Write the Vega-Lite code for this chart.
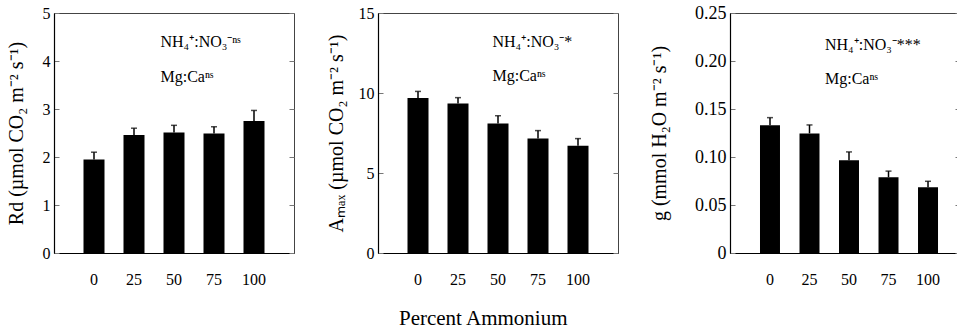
{
  "$schema": "https://vega.github.io/schema/vega-lite/v6.json",
  "padding": {"left": 5, "top": 3, "right": 0, "bottom": 0},
  "background": "white",
  "datasets": {
    "rd": [
      {"pct": 0, "v": 1.95, "e": 2.10},
      {"pct": 25, "v": 2.46, "e": 2.60},
      {"pct": 50, "v": 2.51, "e": 2.66},
      {"pct": 75, "v": 2.49, "e": 2.63},
      {"pct": 100, "v": 2.75, "e": 2.97}
    ],
    "amax": [
      {"pct": 0, "v": 9.69, "e": 10.1},
      {"pct": 25, "v": 9.35, "e": 9.71},
      {"pct": 50, "v": 8.1, "e": 8.58},
      {"pct": 75, "v": 7.15, "e": 7.65},
      {"pct": 100, "v": 6.71, "e": 7.15}
    ],
    "g": [
      {"pct": 0, "v": 0.133, "e": 0.141},
      {"pct": 25, "v": 0.1246, "e": 0.1334},
      {"pct": 50, "v": 0.0965, "e": 0.1053},
      {"pct": 75, "v": 0.0789, "e": 0.0853},
      {"pct": 100, "v": 0.0684, "e": 0.0747}
    ],
    "ann1": [
      {"pct": 50, "y": 4.29, "label": "NH₄⁺:NO₃⁻ⁿˢ"},
      {"pct": 50, "y": 3.56, "label": "Mg:Caⁿˢ"}
    ],
    "ann2": [
      {"pct": 50, "y": 12.9, "label": "NH₄⁺:NO₃⁻*"},
      {"pct": 50, "y": 10.75, "label": "Mg:Caⁿˢ"}
    ],
    "ann3": [
      {"pct": 50, "y": 0.2116, "label": "NH₄⁺:NO₃⁻***"},
      {"pct": 50, "y": 0.1758, "label": "Mg:Caⁿˢ"}
    ]
  },
  "title": {
    "text": "Percent Ammonium",
    "orient": "bottom",
    "anchor": "middle",
    "fontSize": 21,
    "fontWeight": "normal",
    "font": "Liberation Serif",
    "color": "black",
    "offset": 20
  },
  "spacing": 30,
  "hconcat": [
    {
      "width": 240,
      "height": 240,
      "data": {"name": "rd"},
      "layer": [
        {
          "mark": {"type": "bar", "color": "black"},
          "encoding": {
            "x": {"field": "pct", "type": "ordinal", "title": null, "scale": {"paddingInner": 0.475, "paddingOuter": 0.7375}},
            "y": {"field": "v", "type": "quantitative", "title": "Rd (µmol CO₂ m⁻² s⁻¹)", "scale": {"domain": [0, 5], "nice": false},
              "axis": {"values": [0, 1, 2, 3, 4, 5], "titlePadding": 16}}
          }
        },
        {
          "mark": {"type": "rule", "color": "black", "strokeWidth": 1.5},
          "encoding": {
            "x": {"field": "pct", "type": "ordinal", "title": null},
            "y": {"field": "v", "type": "quantitative", "axis": {"orient": "right", "labels": false, "domain": false, "title": null, "values": [0, 1, 2, 3, 4, 5]}},
            "y2": {"field": "e"}
          }
        },
        {
          "mark": {"type": "tick", "color": "black", "thickness": 1.5, "size": 6, "orient": "horizontal"},
          "encoding": {
            "x": {"field": "pct", "type": "ordinal", "title": null},
            "y": {"field": "e", "type": "quantitative", "axis": null}
          }
        },
        {
          "data": {"name": "ann1"},
          "mark": {"type": "text", "align": "left", "baseline": "alphabetic", "fontSize": 16, "dx": -3, "color": "black"},
          "encoding": {
            "x": {"field": "pct", "type": "ordinal", "title": null, "bandPosition": 0},
            "y": {"field": "y", "type": "quantitative", "axis": null},
            "text": {"field": "label"}
          }
        }
      ],
      "resolve": {"axis": {"y": "independent"}}
    },
    {
      "width": 240,
      "height": 240,
      "data": {"name": "amax"},
      "layer": [
        {
          "mark": {"type": "bar", "color": "black"},
          "encoding": {
            "x": {"field": "pct", "type": "ordinal", "title": null, "scale": {"paddingInner": 0.475, "paddingOuter": 0.7375}},
            "y": {"field": "v", "type": "quantitative", "title": "Aₘₐₓ (µmol CO₂ m⁻² s⁻¹)", "scale": {"domain": [0, 15], "nice": false},
              "axis": {"values": [0, 5, 10, 15], "titlePadding": 12}}
          }
        },
        {
          "mark": {"type": "rule", "color": "black", "strokeWidth": 1.5},
          "encoding": {
            "x": {"field": "pct", "type": "ordinal", "title": null},
            "y": {"field": "v", "type": "quantitative", "axis": {"orient": "right", "labels": false, "domain": false, "title": null, "values": [0, 5, 10, 15]}},
            "y2": {"field": "e"}
          }
        },
        {
          "mark": {"type": "tick", "color": "black", "thickness": 1.5, "size": 6, "orient": "horizontal"},
          "encoding": {
            "x": {"field": "pct", "type": "ordinal", "title": null},
            "y": {"field": "e", "type": "quantitative", "axis": null}
          }
        },
        {
          "data": {"name": "ann2"},
          "mark": {"type": "text", "align": "left", "baseline": "alphabetic", "fontSize": 16, "dx": 5, "color": "black"},
          "encoding": {
            "x": {"field": "pct", "type": "ordinal", "title": null, "bandPosition": 0},
            "y": {"field": "y", "type": "quantitative", "axis": null},
            "text": {"field": "label"}
          }
        }
      ],
      "resolve": {"axis": {"y": "independent"}}
    },
    {
      "width": 230,
      "height": 240,
      "data": {"name": "g"},
      "layer": [
        {
          "mark": {"type": "bar", "color": "black"},
          "encoding": {
            "x": {"field": "pct", "type": "ordinal", "title": null, "scale": {"paddingInner": 0.494, "paddingOuter": 0.658, "align": 0.577}},
            "y": {"field": "v", "type": "quantitative", "title": "g (mmol H₂O m⁻² s⁻¹)", "scale": {"domain": [0, 0.25], "nice": false},
              "axis": {"values": [0, 0.05, 0.1, 0.15, 0.2, 0.25], "labelExpr": "datum.value == 0 ? '0' : format(datum.value, '.2f')", "labelFontSize": 18, "titlePadding": 25}}
          }
        },
        {
          "mark": {"type": "rule", "color": "black", "strokeWidth": 1.5},
          "encoding": {
            "x": {"field": "pct", "type": "ordinal", "title": null},
            "y": {"field": "v", "type": "quantitative", "axis": {"orient": "right", "labels": false, "domain": false, "title": null, "values": [0, 0.05, 0.1, 0.15, 0.2, 0.25]}},
            "y2": {"field": "e"}
          }
        },
        {
          "mark": {"type": "tick", "color": "black", "thickness": 1.5, "size": 6, "orient": "horizontal"},
          "encoding": {
            "x": {"field": "pct", "type": "ordinal", "title": null},
            "y": {"field": "e", "type": "quantitative", "axis": null}
          }
        },
        {
          "data": {"name": "ann3"},
          "mark": {"type": "text", "align": "left", "baseline": "alphabetic", "fontSize": 16, "dx": -14, "color": "black"},
          "encoding": {
            "x": {"field": "pct", "type": "ordinal", "title": null, "bandPosition": 0},
            "y": {"field": "y", "type": "quantitative", "axis": null},
            "text": {"field": "label"}
          }
        }
      ],
      "resolve": {"axis": {"y": "independent"}}
    }
  ],
  "config": {
    "font": "Liberation Serif",
    "view": {"stroke": "#444", "strokeWidth": 1},
    "axis": {
      "grid": false,
      "domainColor": "black",
      "domainWidth": 1.2,
      "labelColor": "black",
      "labelFont": "Liberation Serif",
      "labelFontSize": 16,
      "titleFont": "Liberation Serif",
      "titleFontSize": 20,
      "titleFontWeight": "normal",
      "titleColor": "black"
    },
    "axisY": {
      "tickColor": "#777",
      "tickSize": -5,
      "labelPadding": 9
    },
    "axisX": {
      "ticks": false,
      "labelAngle": 0,
      "labelPadding": 18
    }
  }
}
